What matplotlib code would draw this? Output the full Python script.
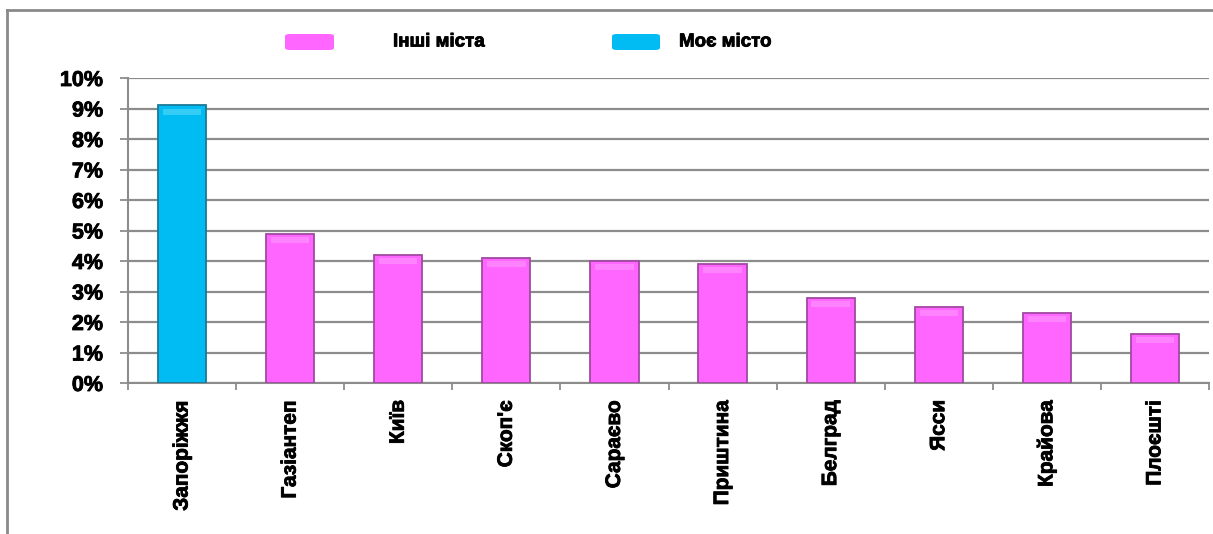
import matplotlib
matplotlib.use("Agg")
import matplotlib.pyplot as plt
import matplotlib.patheffects as pe
from matplotlib.patches import FancyBboxPatch
from matplotlib.lines import Line2D
from matplotlib.ticker import PercentFormatter, MultipleLocator, FixedLocator

# Share of respondents by city, percent
cities = ["Запоріжжя", "Газіантеп", "Київ", "Скоп'є", "Сараєво",
          "Приштина", "Белград", "Ясси", "Крайова", "Плоєшті"]
shares = [9.1, 4.9, 4.2, 4.1, 4.0, 3.9, 2.8, 2.5, 2.3, 1.6]
is_home = [True, False, False, False, False, False, False, False, False, False]
legend_labels = ["Інші міста", "Моє місто"]

PINK = "#ff66ff"
PINK_EDGE = "#a04aa0"
BLUE = "#00bcf2"
BLUE_EDGE = "#1a7a96"
GRID = "#8c8c8c"

plt.rcParams["font.family"] = ["Liberation Sans", "DejaVu Sans"]
plt.rcParams["font.weight"] = "bold"

heavy = [pe.withStroke(linewidth=0.6, foreground="black")]

W, H = 1213, 534
fig = plt.figure(figsize=(W / 100, H / 100), dpi=100)

def fx(px):
    return px / W

def fy(py):
    return 1 - py / H

ax = fig.add_axes([fx(128), fy(383), fx(1209) - fx(128), fy(78) - fy(383)])

x = list(range(len(cities)))
colors = [BLUE if h else PINK for h in is_home]
edges = [BLUE_EDGE if h else PINK_EDGE for h in is_home]
bw = 0.445
ax.bar(x, shares, width=bw, color=colors, edgecolor=edges, linewidth=1.3, zorder=3)

# soft glossy band near the top of each bar
for xi, v, h in zip(x, shares, is_home):
    hl = "#9aeaff" if h else "#ffb8ff"
    ax.bar(xi, 0.2, bottom=v - 0.3, width=bw * 0.8, color=hl,
           alpha=0.35, linewidth=0, zorder=4)

ax.set_xlim(-0.5, len(cities) - 0.5)
ax.set_ylim(0, 10)
ax.yaxis.set_major_locator(MultipleLocator(1))
ax.yaxis.set_major_formatter(PercentFormatter(decimals=0))
ax.grid(axis="y", color=GRID, linewidth=1.6, zorder=0)
ax.set_axisbelow(True)

# city names on major ticks, category separators as minor ticks
ax.set_xticks(x)
ax.set_xticklabels(cities, rotation=90, fontsize=15, fontweight="bold")
ax.xaxis.set_minor_locator(FixedLocator([i + 0.5 for i in range(-1, len(cities))]))
ax.tick_params(axis="x", which="minor", direction="out", length=5,
               color=GRID, width=1.3)
ax.tick_params(axis="x", which="major", length=0, pad=12)
ax.tick_params(axis="y", direction="out", length=6, color=GRID, width=1.3,
               pad=12, labelsize=15.5)
for lab in ax.get_yticklabels() + ax.get_xticklabels():
    lab.set_fontweight("bold")
    lab.set_path_effects(heavy)

for side in ("top", "right"):
    ax.spines[side].set_visible(False)
for side in ("left", "bottom"):
    ax.spines[side].set_color(GRID)
    ax.spines[side].set_linewidth(1.5)

# outer frame (left and top edges)
fig.add_artist(Line2D([fx(7), fx(7)], [0, fy(10)], color="#8a8a8a", linewidth=2))
fig.add_artist(Line2D([fx(7), 1], [fy(10), fy(10)], color="#8a8a8a", linewidth=2))

# legend
legend_items = [
    (285, 334, PINK, legend_labels[0], 393),
    (612, 660, BLUE, legend_labels[1], 679),
]
for x0, x1, col, label, tx in legend_items:
    fig.add_artist(FancyBboxPatch((fx(x0), fy(50)), fx(x1) - fx(x0), fy(34) - fy(50),
                                  boxstyle="round,pad=0,rounding_size=0.004",
                                  facecolor=col, edgecolor="none",
                                  transform=fig.transFigure))
    fig.text(fx(tx), fy(42), label, fontsize=13.5, fontweight="bold",
             va="center", ha="left", path_effects=heavy)

fig.savefig("out.png", dpi=100)
